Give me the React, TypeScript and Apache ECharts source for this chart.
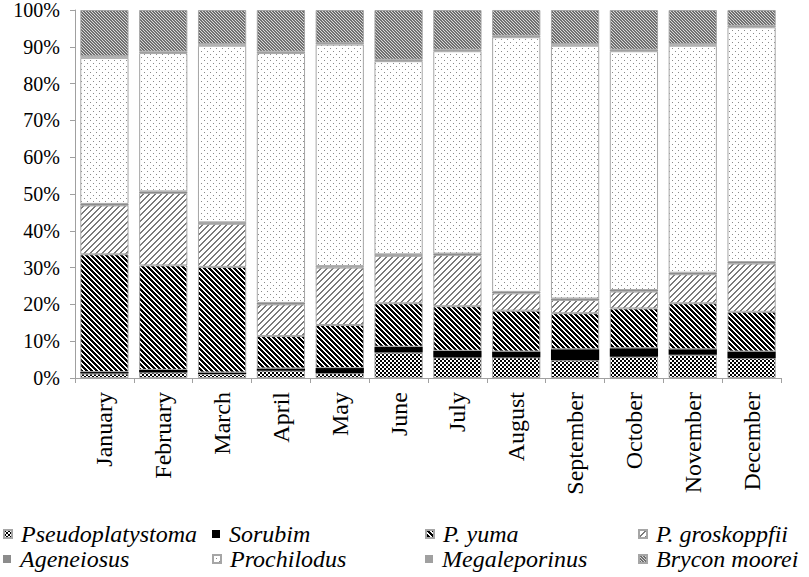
import React, { useEffect, useRef } from "react";
import * as echarts from "echarts";

const months = ["January", "February", "March", "April", "May", "June", "July", "August", "September", "October", "November", "December"];
const pseudoplatystoma = [1.2, 1.5, 1.1, 2.0, 1.3, 6.9, 5.6, 5.6, 4.8, 5.8, 6.3, 5.4];
const sorubim = [0.4, 0.7, 0.4, 0.6, 1.4, 1.6, 1.8, 1.6, 3.0, 2.3, 1.5, 1.8];
const pYuma = [32.0, 28.4, 28.7, 8.8, 11.7, 11.8, 12.1, 11.1, 9.8, 10.8, 12.5, 10.8];
const pGroskoppfii = [13.3, 19.7, 11.7, 8.6, 15.6, 12.9, 13.9, 4.7, 3.6, 4.6, 7.9, 13.1];
const ageneiosus = [0.4, 0.4, 0.4, 0.4, 0.4, 0.4, 0.4, 0.4, 0.4, 0.4, 0.4, 0.4];
const prochilodus = [39.7, 37.6, 48.0, 67.9, 60.2, 52.5, 55.0, 69.2, 68.7, 64.9, 61.7, 63.8];
const megaleporinus = [0.4, 0.4, 0.4, 0.4, 0.4, 0.4, 0.4, 0.4, 0.4, 0.4, 0.4, 0.4];
const bryconMoorei = [12.6, 11.3, 9.3, 11.3, 9.0, 13.5, 10.8, 7.0, 9.3, 10.8, 9.3, 4.3];
const yTicks = [0, 10, 20, 30, 40, 50, 60, 70, 80, 90, 100];
const legendRow1 = ["Pseudoplatystoma", "Sorubim", "P. yuma", "P. groskoppfii"];
const legendRow2 = ["Ageneiosus", "Prochilodus", "Megaleporinus", "Brycon moorei"];

function makeTile(size: number, bg: string, fg: string, on: (x: number, y: number) => boolean) {
  const c = document.createElement("canvas");
  c.width = size;
  c.height = size;
  const ctx = c.getContext("2d")!;
  ctx.fillStyle = bg;
  ctx.fillRect(0, 0, size, size);
  ctx.fillStyle = fg;
  for (let y = 0; y < size; y++) {
    for (let x = 0; x < size; x++) {
      if (on(x, y)) ctx.fillRect(x, y, 1, 1);
    }
  }
  return { image: c.toDataURL(), repeat: "repeat", imageWidth: size, imageHeight: size } as any;
}

export default function App() {
  const ref = useRef<HTMLDivElement>(null);
  useEffect(() => {
    document.body.style.margin = "0";
    const chart = echarts.init(ref.current!, null, { renderer: "svg" });
    const mod = (a: number, n: number) => ((a % n) + n) % n;
    const checker = makeTile(4, "#ffffff", "#000000", (x, y) => (Math.floor(x / 2) + Math.floor(y / 2)) % 2 === 0);
    const yumaPat = makeTile(5, "#ffffff", "#000000", (x, y) => mod(x - y, 5) < 3);
    const groskPat = makeTile(6, "#ffffff", "#7a7a7a", (x, y) => mod(x + y, 6) < 2 || (mod(x - y, 6) === 0 && y % 3 === 0));
    const dotPat = makeTile(6, "#ffffff", "#8a8a8a", (x, y) => (x === 0 && y === 0) || (x === 3 && y === 3));
    const bryconPat = makeTile(3, "#d8d8d8", "#707070", (x, y) => mod(x - y, 3) < 2);

    const mk = (name: string, data: number[], color: any, bw = 1) => ({
      name,
      type: "bar",
      stack: "total",
      barCategoryGap: "18%",
      data,
      itemStyle: { color, borderColor: "#a6a6a6", borderWidth: bw },
    });

    const serif = "Liberation Serif";
    const colLeft = [3, 212, 425, 638];
    const rowTop = [522, 547];
    const mkLegend = (name: string, col: number, row: number) => ({
      orient: "horizontal",
      left: colLeft[col],
      top: rowTop[row],
      padding: 0,
      itemWidth: 8,
      itemHeight: 8,
      icon: "rect",
      data: [name],
      textStyle: { fontFamily: serif, fontStyle: "italic", fontSize: 24, color: "#000000", padding: [0, 0, 0, 4] },
    });
    const legends: any[] = [];
    legendRow1.forEach((n, i) => legends.push(mkLegend(n, i, 0)));
    legendRow2.forEach((n, i) => legends.push(mkLegend(n, i, 1)));

    chart.setOption({
      animation: false,
      backgroundColor: "#ffffff",
      grid: { left: 75, right: 28, top: 8, bottom: 199, containLabel: false },
      legend: legends,
      xAxis: {
        type: "category",
        data: months,
        axisLine: { lineStyle: { color: "#a0a0a0", width: 1 } },
        axisTick: { show: true, length: 5, lineStyle: { color: "#a0a0a0" } },
        axisLabel: { rotate: 90, margin: 14, fontFamily: serif, fontSize: 24, color: "#000", interval: 0 },
      },
      yAxis: {
        type: "value",
        min: 0,
        max: 100,
        interval: 10,
        splitLine: { show: false },
        axisLine: { show: true, lineStyle: { color: "#a0a0a0", width: 1 } },
        axisTick: { show: true, length: 5, lineStyle: { color: "#a0a0a0" } },
        axisLabel: {
          margin: 15,
          fontFamily: serif,
          fontSize: 20,
          color: "#000",
          customValues: yTicks,
          formatter: (v: number) => `${v}%`,
        },
      },
      series: [
        mk("Pseudoplatystoma", pseudoplatystoma, checker),
        mk("Sorubim", sorubim, "#000000", 0),
        mk("P. yuma", pYuma, yumaPat),
        mk("P. groskoppfii", pGroskoppfii, groskPat),
        mk("Ageneiosus", ageneiosus, "#8c8c8c", 0),
        mk("Prochilodus", prochilodus, dotPat),
        mk("Megaleporinus", megaleporinus, "#a0a0a0", 0),
        mk("Brycon moorei", bryconMoorei, bryconPat),
      ],
    });
    return () => chart.dispose();
  }, []);
  return <div ref={ref} style={{ position: "fixed", left: 0, top: 0, width: 809, height: 577 }} />;
}
